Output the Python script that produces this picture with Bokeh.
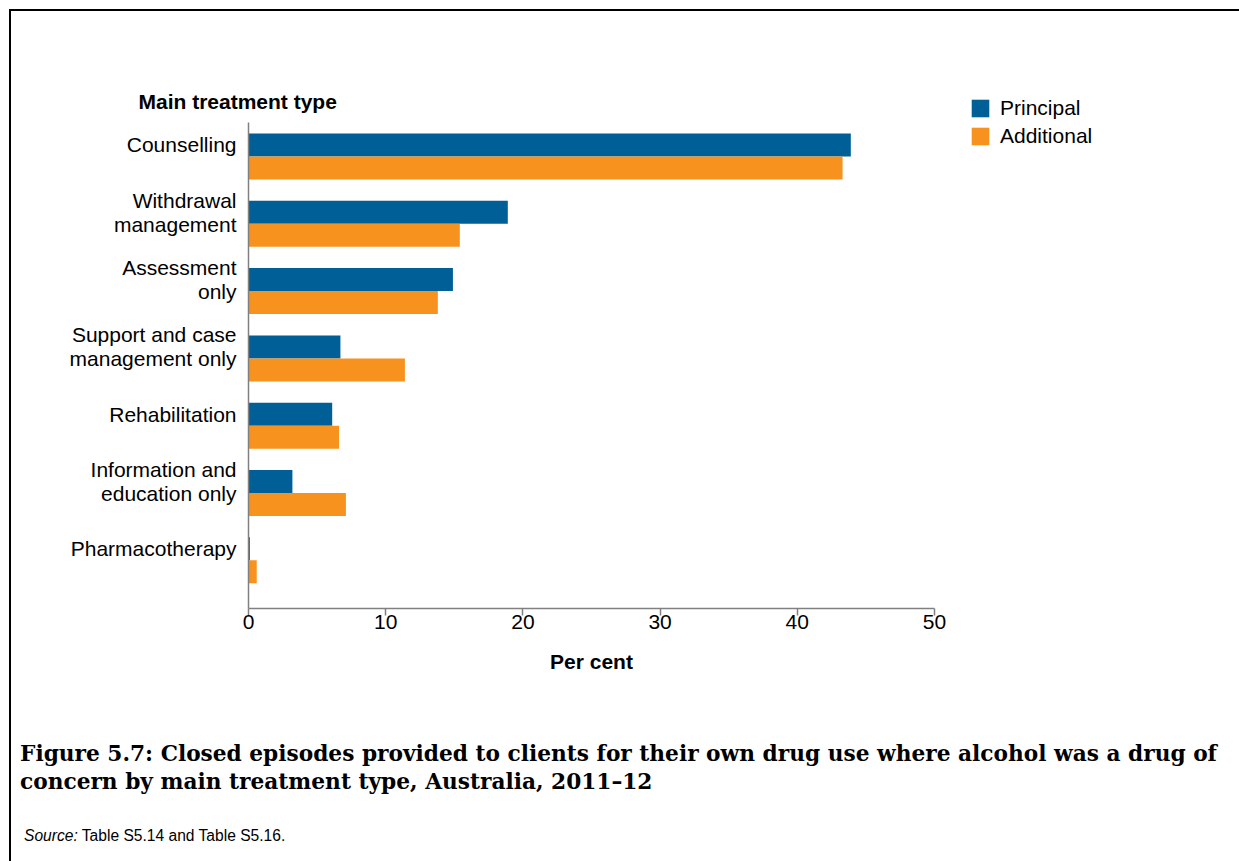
from bokeh.plotting import figure
from bokeh.models import Range1d, FixedTicker, Legend, LegendItem, Div, Spacer
from bokeh.layouts import column, row
from bokeh.embed import file_html
from bokeh.resources import INLINE

# ---- data ----
categories = ["Counselling", "Withdrawal\nmanagement", "Assessment\nonly",
              "Support and case\nmanagement only", "Rehabilitation",
              "Information and\neducation only", "Pharmacotherapy"]
principal = [43.9, 18.9, 14.9, 6.7, 6.1, 3.2, 0.1]
additional = [43.3, 15.4, 13.8, 11.4, 6.6, 7.1, 0.6]
x_ticks = [0, 10, 20, 30, 40, 50]
series_names = ["Principal", "Additional"]
y_heading = "Main treatment type"
x_title = "Per cent"
caption_1 = "Figure 5.7: Closed episodes provided to clients for their own drug use where alcohol was a drug of"
caption_2 = "concern by main treatment type, Australia, 2011\u201312"
source_lead = "Source:"
source_text = "Table S5.14 and Table S5.16."

BLUE = "#005f96"
ORANGE = "#f7921e"
SANS = "Liberation Sans"

idx = list(range(len(categories)))
y_principal = [i for i in idx]
y_additional = [i + 0.342 for i in idx]

p = figure(frame_width=686, frame_height=486,
           min_border_left=237, min_border_top=111,
           min_border_right=305, min_border_bottom=92,
           x_range=Range1d(0, 50), y_range=Range1d(6.887, -0.334),
           title=y_heading,
           output_backend="svg", toolbar_location=None,
           background_fill_color="white", border_fill_color="white")

r1 = p.hbar(y=y_principal, right=principal, left=0, height=0.342,
            fill_color=BLUE, line_color=None)
r2 = p.hbar(y=y_additional, right=additional, left=0, height=0.342,
            fill_color=ORANGE, line_color=None)

p.outline_line_color = None
p.xgrid.visible = False
p.ygrid.visible = False

# heading above the category axis
p.title.align = "left"
p.title.offset = -110
p.title.standoff = 20
p.title.text_font = SANS
p.title.text_font_style = "bold"
p.title.text_font_size = "21px"
p.title.text_color = "black"

# x axis
xa = p.xaxis[0]
xa.ticker = FixedTicker(ticks=x_ticks)
xa.minor_tick_line_color = None
xa.axis_line_color = "#808080"
xa.axis_line_width = 1.5
xa.major_tick_line_color = "#808080"
xa.major_tick_line_width = 1.5
xa.major_tick_out = 7
xa.major_tick_in = 0
xa.major_label_standoff = -1
xa.major_label_text_font = SANS
xa.major_label_text_font_size = "21px"
xa.major_label_text_color = "black"
xa.axis_label = x_title
xa.axis_label_text_font = SANS
xa.axis_label_text_font_style = "bold"
xa.axis_label_text_font_size = "21px"
xa.axis_label_text_color = "black"
xa.axis_label_standoff = 18

# y axis
ya = p.yaxis[0]
ya.ticker = FixedTicker(ticks=idx)
ya.major_label_overrides = {i: c for i, c in zip(idx, categories)}
ya.minor_tick_line_color = None
ya.major_tick_line_color = None
ya.major_tick_out = 0
ya.major_tick_in = 0
ya.axis_line_color = "#808080"
ya.axis_line_width = 1.5
ya.major_label_standoff = 12
ya.major_label_text_font = SANS
ya.major_label_text_font_size = "21px"
ya.major_label_text_color = "black"
ya.major_label_text_align = "right"
ya.major_label_text_line_height = 1.05

# legend
legend = Legend(items=[LegendItem(label=series_names[0], renderers=[r1]),
                       LegendItem(label=series_names[1], renderers=[r2])],
                location=(35, 460), orientation="vertical",
                glyph_width=22, glyph_height=22, label_height=22,
                spacing=4, padding=0, margin=0, label_standoff=9,
                label_text_font=SANS, label_text_font_size="21px",
                label_text_color="black",
                border_line_color=None, background_fill_alpha=0)
p.add_layout(legend, "right")

caption_html = (
    '<div style="padding-top:40px;padding-left:9px;color:black;white-space:nowrap;">'
    '<div style="font-family:\'DejaVu Serif\';font-weight:bold;font-size:21.7px;line-height:28px;">'
    f'{caption_1}<br>{caption_2}</div>'
    '<div style="font-family:\'Liberation Sans\';font-size:15.6px;line-height:20px;'
    'margin-top:30px;margin-left:4px;">'
    f'<i>{source_lead}</i> {source_text}</div></div>'
)
caption = Div(text=caption_html, width=1228, height=161, margin=0)

bar_h = Div(text="", width=1230, height=2, margin=0, styles={"background-color": "black"})
bar_v = Div(text="", width=2, height=850, margin=0, styles={"background-color": "black"})

inner = column(bar_h, row(bar_v, column(p, caption)))
layout = column(Spacer(width=1239, height=9, margin=0),
                row(Spacer(width=9, height=852, margin=0), inner))

open("out.html", "w").write(file_html(layout, INLINE))
